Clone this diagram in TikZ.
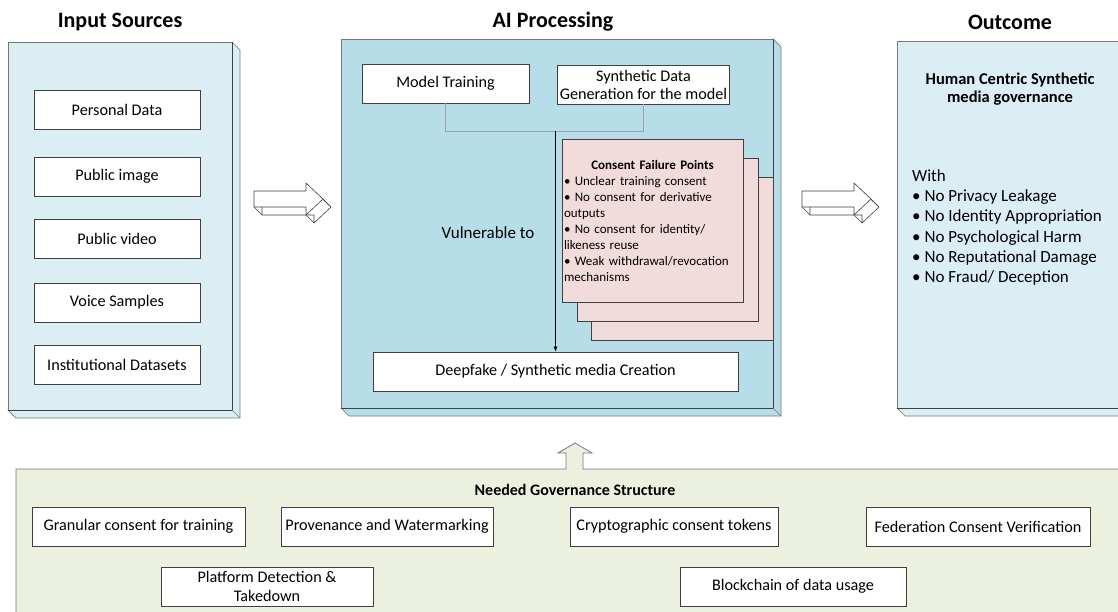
\documentclass[tikz,border=0pt]{standalone}
\usepackage{fontspec}
\setmainfont{Carlito}
\usetikzlibrary{arrows.meta,calc,positioning}
\definecolor{srcfill}{RGB}{218,238,243}
\definecolor{procfill}{RGB}{183,222,232}
\definecolor{failfill}{RGB}{242,220,219}
\definecolor{govfill}{RGB}{235,241,222}
\definecolor{edgegray}{RGB}{120,120,120}
\definecolor{boxedge}{RGB}{64,64,64}
\definecolor{linkgray}{RGB}{150,165,175}
\newcommand{\SlabDepth}{8}
\tikzset{
  item/.style={draw=boxedge, fill=white, line width=0.7pt, inner sep=2pt, align=center,
    minimum height=39pt, font=\fontsize{16.2}{18}\selectfont},
  headline/.style={font=\bfseries\fontsize{22}{25}\selectfont},
  failbox/.style={draw=boxedge, fill=failfill, line width=0.6pt, minimum width=181pt, minimum height=163pt},
  link/.style={draw=linkgray, line width=0.8pt},
  flow/.style={-{Latex[length=5pt,width=4pt]}, line width=0.6pt, draw=black},
  blockarrow/.style={draw=boxedge, fill=white, line width=0.6pt, line join=round}
}
% slab with depth to the lower right: x1,y1,x2,y2,fill
\newcommand{\DrawSlab}[5]{%
  \filldraw[draw=edgegray, fill=#5, line width=0.7pt] (#1,#4) -- ({#1+\SlabDepth},{#4+\SlabDepth})
    -- ({#3+\SlabDepth},{#4+\SlabDepth}) -- ({#3+\SlabDepth},{#2+\SlabDepth}) -- (#3,#2) -- cycle;
  \filldraw[draw=edgegray, fill=#5, line width=0.9pt] (#1,#2) rectangle (#3,#4);
  \draw[boxedge, line width=0.6pt] (#1,#4) -- (#3,#4) -- (#3,#2);
  \draw[edgegray, line width=0.6pt] (#3,#4) -- ({#3+\SlabDepth},{#4+\SlabDepth});
}
% hollow 3d arrow, #1 = top left of the shaft
\newcommand{\DrawBlockArrow}[1]{%
  \begin{scope}[shift={#1}]
    \filldraw[blockarrow] (8,8) -- (60,8) -- (60,0) -- (77,16) -- (60,32) -- (60,24) -- (8,24) -- cycle;
    \draw[blockarrow] (0,16) -- (8,24) (69,8) -- (77,16) (52,24) -- (60,32);
    \filldraw[blockarrow] (0,0) -- (52,0) -- (52,-8) -- (69,8) -- (52,24) -- (52,16) -- (0,16) -- cycle;
  \end{scope}}

\begin{document}
\begin{tikzpicture}[x=1pt, y=-1pt]
  \useasboundingbox (0,0) rectangle (1118,611);
  \clip (0,0) rectangle (1118,611);
  \fill[white] (0,0) rectangle (1118,611);

  % column titles
  \node[headline] (hsrc) at (120,22) {Input Sources};
  \node[headline] (hproc) at (553,22) {AI Processing};
  \node[headline] (hout) at (1010,22) {Outcome};

  % input sources
  \DrawSlab{8}{42}{232}{410}{srcfill}
  \foreach \i/\yc/\txt in {1/110/Personal Data, 2/176.5/Public image, 3/239/Public video,
                           4/302.5/Voice Samples, 5/364.5/Institutional Datasets}
    \node[item, minimum width=166pt] (src\i) at (117,\yc) {\txt};

  \DrawBlockArrow{(254,191)}

  % ai processing
  \DrawSlab{341}{39}{773}{408}{procfill}
  \node[item, minimum width=167pt] (mt) at (445.5,83.5) {Model Training};
  \node[item, minimum width=167pt] (sd) at (643.5,84.5) {Synthetic Data\\Generation for the model};
  \node[item, minimum width=365pt] (df) at (555.5,371.5) {Deepfake / Synthetic media Creation};
  \node[font=\fontsize{17}{20}\selectfont] (vul) at (488,233) {Vulnerable to};

  \node[failbox, minimum width=182pt] (cf3) at (682,258.5) {};
  \node[failbox] (cf2) at (667.5,239.5) {};
  \node[failbox, align=left, text width=177pt, inner sep=2pt,
        font=\fontsize{13}{16}\selectfont] (cf) at (652.5,220.5)
    {\makebox[\linewidth]{\bfseries Consent Failure Points}\\
     • Unclear training consent\\
     • No consent for derivative\\
     outputs\\
     • No consent for identity/\\
     likeness reuse\\
     • Weak withdrawal/revocation\\
     mechanisms};

  \path (mt.south) ++(0,28) coordinate (mtdrop);
  \coordinate (jn) at (df.north |- mtdrop);
  \draw[link] (mt.south) -- (mtdrop) -| (sd.south);
  \draw[flow] (jn) -- (df.north);

  \DrawBlockArrow{(802,191)}

  % outcome
  \DrawSlab{897}{41}{1135}{408}{srcfill}
  \node[align=center, font=\bfseries\fontsize{16.5}{18.5}\selectfont] (hc) at (1010,89)
    {Human Centric Synthetic\\media governance};
  \node[anchor=west, align=left, inner sep=0pt, font=\fontsize{17}{20.2}\selectfont] (gains) at (912,227.5)
    {With\\• No Privacy Leakage\\• No Identity Appropriation\\• No Psychological Harm\\
     • No Reputational Damage\\• No Fraud/ Deception};

  % governance panel with the upward arrow
  \filldraw[draw=edgegray, fill=govfill, line width=0.8pt]
    (16,630) -- (16,469) -- (566,469) -- (566,453) -- (558,453) -- (575,443) -- (592,453)
    -- (583,453) -- (583,469) -- (1140,469) -- (1140,630) -- cycle;
  \node[font=\bfseries\fontsize{16}{18}\selectfont] (govt) at (575,490) {Needed Governance Structure};
  \node[item, minimum width=213pt] (g1) at (138.5,526.5) {Granular consent for training};
  \node[item, minimum width=212pt] (g2) at (387,526.5) {Provenance and Watermarking};
  \node[item, minimum width=208pt] (g3) at (674,526.5) {Cryptographic consent tokens};
  \node[item, minimum width=224pt] (g4) at (978,526.5) {Federation Consent Verification};
  \node[item, minimum width=212pt, font=\fontsize{16.2}{19}\selectfont] (g5) at (267,586.5) {Platform Detection \&\\Takedown};
  \node[item, minimum width=226pt] (g6) at (793,586.5) {Blockchain of data usage};
\end{tikzpicture}
\end{document}
